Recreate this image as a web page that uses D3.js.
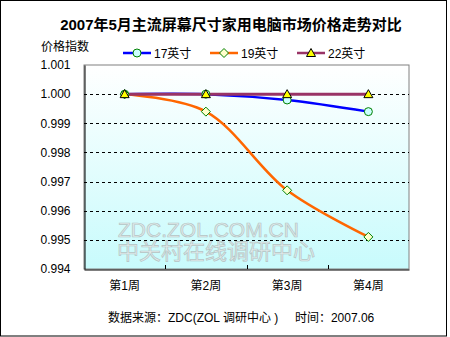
<!DOCTYPE html>
<html><head><meta charset="utf-8">
<script src="https://cdn.jsdelivr.net/npm/d3@7"></script>
<style>body{margin:0;background:#fff}svg{display:block}text{font-family:"Liberation Sans",Arial,"Noto Sans CJK SC",sans-serif}</style>
</head><body><svg id="c" width="450" height="337"></svg>
<script>
const categories = ["第1周","第2周","第3周","第4周"];
const seriesNames = ["17英寸","19英寸","22英寸"];
const s17 = [1.0000, 1.0000, 0.9998, 0.9994];
const s19 = [1.0000, 0.9994, 0.9967, 0.9951];
const s22 = [1.0000, 1.0000, 1.0000, 1.0000];
const yTicks = [0.994,0.995,0.996,0.997,0.998,0.999,1.000,1.001];
const title = "2007年5月主流屏幕尺寸家用电脑市场价格走势对比";
const yTitle = "价格指数";
const footer = "数据来源：ZDC(ZOL 调研中心 )     时间：2007.06";

const svg = d3.select("#c");
const L=84,R=409,T=65,B=269;
const x = d3.scaleBand().domain(categories).range([L,R]);
const y = d3.scaleLinear().domain([0.994,1.001]).range([B,T]);
const cx = c => x(c)+x.bandwidth()/2;

// outer border
svg.append("rect").attr("x",0.5).attr("y",0.5).attr("width",446).attr("height",335.5).attr("fill","#fff").attr("stroke","#000");

// gradient
const g = svg.append("defs").append("linearGradient").attr("id","bg").attr("x1",0).attr("y1",0).attr("x2",0).attr("y2",1);
g.append("stop").attr("offset","0").attr("stop-color","#ffffff");
g.append("stop").attr("offset","1").attr("stop-color","#c8fbfc");
svg.append("rect").attr("x",L).attr("y",T).attr("width",R-L).attr("height",B-T).attr("fill","url(#bg)").attr("stroke","#808080");

// watermark
svg.append("text").attr("x",118).attr("y",237).attr("font-size",21).attr("fill","#e2ecec").attr("stroke","#b4c4c4").attr("stroke-width",0.7).text("ZDC.ZOL.COM.CN");
svg.append("text").attr("x",117).attr("y",259).attr("font-size",22).attr("fill","#e2ecec").attr("stroke","#b4c4c4").attr("stroke-width",0.7).attr("font-family","Noto Sans CJK SC").text("中关村在线调研中心");

// gridlines
svg.append("g").selectAll("line").data(yTicks.filter(v=>v>0.9945&&v<1.0005)).join("line")
 .attr("x1",L).attr("x2",R).attr("y1",d=>Math.round(y(d))+0.5).attr("y2",d=>Math.round(y(d))+0.5)
 .attr("stroke","#000").attr("stroke-dasharray","3,3");

// axes
const ya = d3.axisLeft(y).tickValues(yTicks).tickFormat(d3.format(".3f")).tickSize(0).tickPadding(14);
const yg = svg.append("g").attr("transform",`translate(${L+0.5},0)`).call(ya);
yg.select(".domain").attr("stroke","#000");
yg.selectAll("text").attr("font-size",12).attr("fill","#000").attr("font-family","Liberation Sans, Arial");

const xa = d3.axisBottom(x).tickSizeInner(-4).tickSizeOuter(0).tickPadding(12);
const xg = svg.append("g").attr("transform",`translate(0,${B+0.5})`).call(xa);
xg.select(".domain").attr("stroke","#000");
xg.selectAll(".tick line").remove();
xg.selectAll("text").attr("font-size",12).attr("fill","#000").attr("font-family","Noto Sans CJK SC, sans-serif");
const bt = x.domain().map(c=>x(c)).slice(1);
svg.append("g").selectAll("line").data(bt).join("line").attr("x1",d=>Math.round(d)+0.5).attr("x2",d=>Math.round(d)+0.5).attr("y1",B).attr("y2",B-4).attr("stroke","#000");

// lines
const line = d3.line().x((d,i)=>cx(categories[i])).y(d=>y(d)).curve(d3.curveCatmullRom.alpha(0.5));
const colors = ["#0000ff","#ff6600","#993366"];
const data = [s17,s19,s22];
data.forEach((s,i)=>{
 svg.append("path").attr("d",line(s)).attr("fill","none").attr("stroke",colors[i]).attr("stroke-width",i==2?3:2.5);
});
// markers
function marker(sel,k){
 if(k==0) sel.append("circle").attr("r",4).attr("fill","#ccffff").attr("stroke","#008000").attr("stroke-width",1);
 else if(k==1) sel.append("path").attr("d","M0,-4.5L4.5,0L0,4.5L-4.5,0Z").attr("fill","#ffffcc").attr("stroke","#008000").attr("stroke-width",1);
 else sel.append("path").attr("d","M0,-4.5L4.5,3.5L-4.5,3.5Z").attr("fill","#ffff00").attr("stroke","#000").attr("stroke-width",1);
}
data.forEach((s,k)=>{
 s.forEach((v,i)=>{ marker(svg.append("g").attr("transform",`translate(${cx(categories[i])},${y(v)})`),k); });
});

// title
svg.append("text").attr("x",231).attr("y",30).attr("text-anchor","middle").attr("font-size",15).attr("font-weight","bold").attr("font-family","Noto Sans CJK SC, sans-serif").text(title);
svg.append("text").attr("x",41).attr("y",51).attr("font-size",12).attr("font-family","Noto Sans CJK SC, sans-serif").text(yTitle);

// legend
const lx=[123,210,297];
seriesNames.forEach((n,k)=>{
 svg.append("line").attr("x1",lx[k]).attr("x2",lx[k]+28).attr("y1",53).attr("y2",53).attr("stroke",colors[k]).attr("stroke-width",2.5);
 marker(svg.append("g").attr("transform",`translate(${lx[k]+14},53)`),k);
 svg.append("text").attr("x",lx[k]+31).attr("y",57.5).attr("font-size",12).attr("font-family","Liberation Sans, Arial, Noto Sans CJK SC").text(n);
});

svg.append("text").attr("x",108).attr("y",322).attr("font-size",12).attr("xml:space","preserve").style("white-space","pre").attr("font-family","Noto Sans CJK SC, sans-serif").text(footer);
</script></body></html>
